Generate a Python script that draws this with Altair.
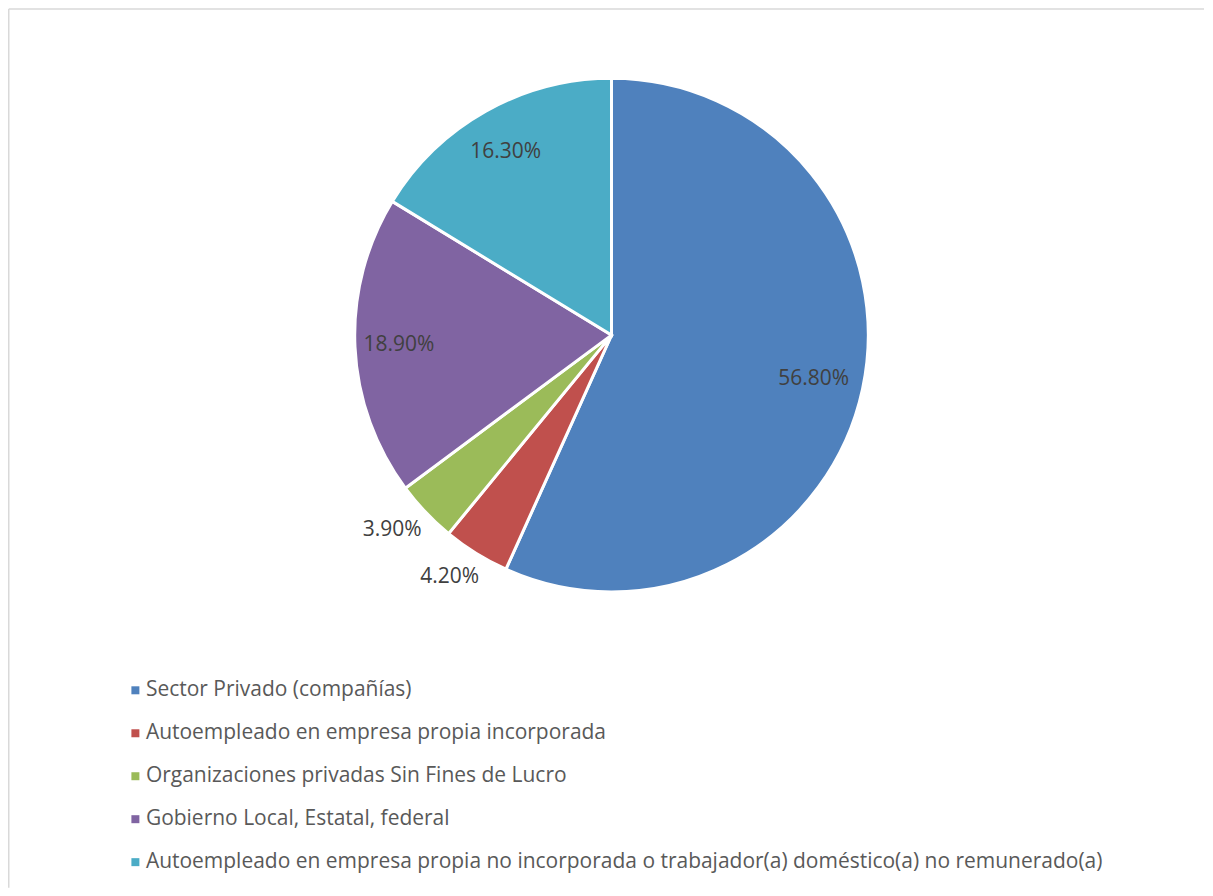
import altair as alt
import pandas as pd

categories = [
    "Sector Privado (compañías)",
    "Autoempleado en empresa propia incorporada",
    "Organizaciones privadas Sin Fines de Lucro",
    "Gobierno Local, Estatal, federal",
    "Autoempleado en empresa propia no incorporada o trabajador(a) doméstico(a) no remunerado(a)",
]
values = [56.8, 4.2, 3.9, 18.9, 16.3]
labels = ["56.80%", "4.20%", "3.90%", "18.90%", "16.30%"]
inside = [True, False, False, True, True]
colors = ["#4F81BD", "#C0504D", "#9BBB59", "#8064A2", "#4BACC6"]

df = pd.DataFrame({
    "cat": categories,
    "value": values,
    "label": labels,
    "inside": inside,
    "idx": list(range(len(categories))),
})

W, H = 1197, 880
CX, CY = 604, 327
FONT = "Open Sans"

base = alt.Chart(df).encode(
    theta=alt.Theta("value:Q", stack=True),
    order=alt.Order("idx:Q"),
)

pie = base.mark_arc(radius=257, stroke="white", strokeWidth=3).encode(
    x=alt.value(CX), y=alt.value(CY),
    color=alt.Color(
        "cat:N",
        scale=alt.Scale(domain=categories, range=colors),
        sort=categories,
        legend=alt.Legend(
            title=None, orient="none", legendX=117, legendY=672,
            direction="vertical", symbolType="square", symbolSize=64,
            symbolStrokeWidth=0, labelFont=FONT, labelFontSize=21,
            labelColor="#595959", labelLimit=1200, rowPadding=21,
            labelOffset=0,
        ),
    ),
)

lab_in = base.transform_calculate(
    t="datum.inside ? datum.label : ''"
).mark_text(radius=210, font=FONT, fontSize=21, color="#404040").encode(
    x=alt.value(CX - 3), y=alt.value(CY), text="t:N"
)

lab_out = base.transform_calculate(
    t="datum.inside ? '' : datum.label"
).mark_text(radius=292, dx=-8, dy=-6, font=FONT, fontSize=21, color="#404040").encode(
    x=alt.value(CX), y=alt.value(CY), text="t:N"
)

# chart frame: only the top and left edges are visible in the reference
frame_top = alt.Chart(df.head(1)).mark_rule(color="#D9D9D9", strokeWidth=1.5).encode(
    x=alt.value(0.75), x2=alt.value(W), y=alt.value(0.75)
)
frame_left = alt.Chart(df.head(1)).mark_rule(color="#D9D9D9", strokeWidth=1.5).encode(
    x=alt.value(0.75), y=alt.value(0.75), y2=alt.value(H)
)

chart = alt.layer(frame_top, frame_left, pie, lab_in, lab_out).properties(
    width=W, height=H, padding=0
).configure_view(stroke=None)

chart.save("out.html", embed_options={"renderer": "svg", "actions": False})
